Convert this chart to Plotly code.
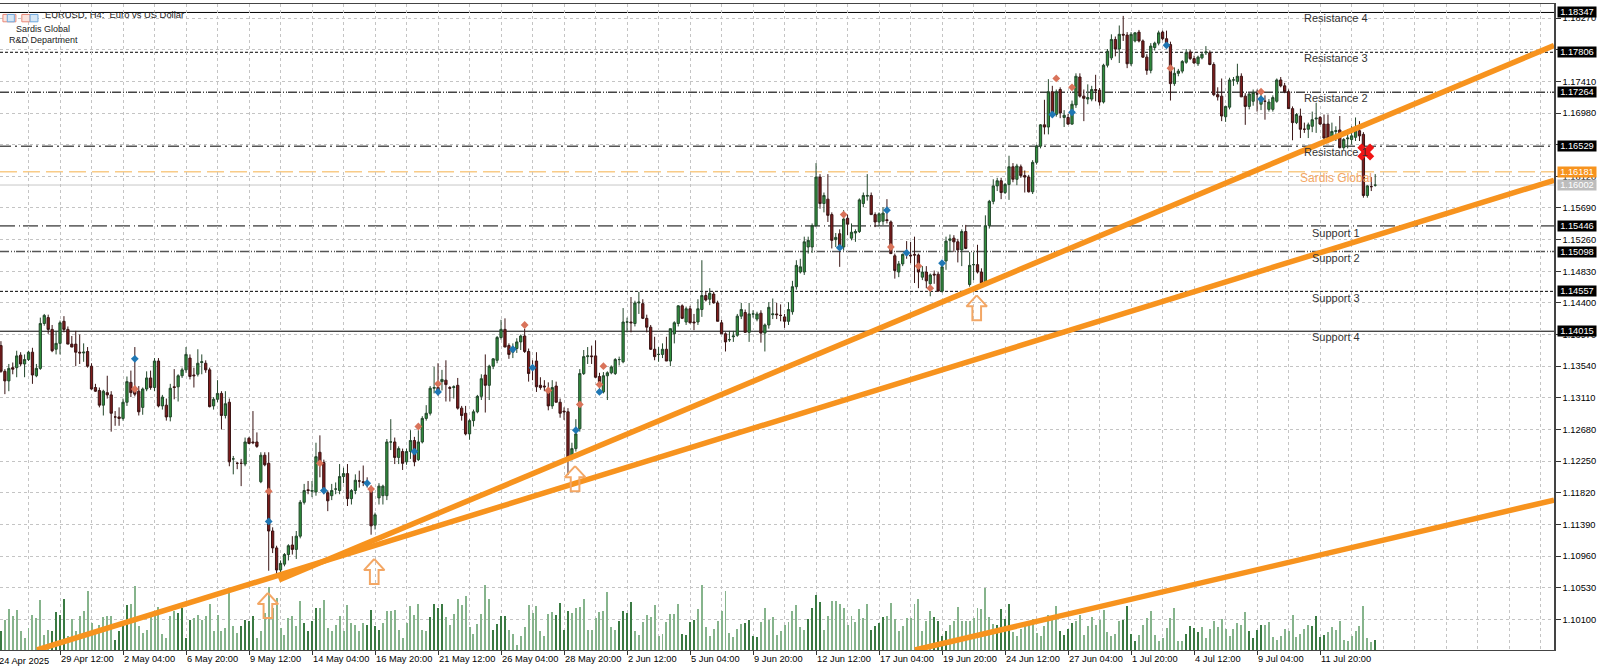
import plotly.graph_objects as go

opens = [
1.1382,1.1347,1.1334,1.1352,1.1352,1.1369,1.1357,1.1363,1.1373,1.1341,
1.1351,1.1412,1.1420,1.1404,1.1377,1.1385,1.1415,1.1404,1.1384,1.1384,
1.1373,1.1372,1.1374,1.1354,1.1325,1.1321,1.1301,1.1318,1.1315,1.1285,
1.1285,1.1283,1.1305,1.1332,1.1323,1.1320,1.1298,1.1323,1.1338,1.1325,
1.1361,1.1300,1.1301,1.1285,1.1326,1.1326,1.1341,1.1349,1.1365,1.1342,
1.1343,1.1359,1.1358,1.1349,1.1300,1.1309,1.1317,1.1287,1.1305,1.1228,
1.1222,1.1222,1.1221,1.1256,1.1251,1.1251,1.1197,1.1233,1.1222,1.1130,
1.1107,1.1077,1.1085,1.1098,1.1111,1.1105,1.1123,1.1169,1.1186,1.1184,
1.1183,1.1237,1.1223,1.1182,1.1178,1.1187,1.1185,1.1204,1.1208,1.1174,
1.1185,1.1198,1.1197,1.1195,1.1187,1.1138,1.1175,1.1178,1.1178,1.1251,
1.1251,1.1230,1.1238,1.1224,1.1238,1.1253,1.1227,1.1251,1.1283,1.1290,
1.1324,1.1325,1.1333,1.1335,1.1325,1.1325,1.1328,1.1297,1.1290,1.1262,
1.1280,1.1292,1.1313,1.1342,1.1328,1.1354,1.1362,1.1393,1.1404,1.1382,
1.1373,1.1378,1.1387,1.1395,1.1374,1.1353,1.1361,1.1328,1.1327,1.1323,
1.1300,1.1327,1.1305,1.1293,1.1292,1.1230,1.1242,1.1269,1.1344,1.1367,
1.1368,1.1368,1.1340,1.1319,1.1341,1.1345,1.1344,1.1363,1.1360,1.1414,
1.1414,1.1412,1.1440,1.1439,1.1419,1.1407,1.1377,1.1370,1.1370,1.1377,
1.1361,1.1398,1.1412,1.1436,1.1414,1.1432,1.1414,1.1414,1.1431,1.1450,
1.1445,1.1452,1.1440,1.1413,1.1398,1.1390,1.1394,1.1396,1.1422,1.1427,
1.1400,1.1425,1.1418,1.1426,1.1399,1.1410,1.1424,1.1425,1.1423,1.1421,
1.1415,1.1428,1.1462,1.1482,1.1482,1.1516,1.1516,1.1545,1.1611,1.1575,
1.1581,1.1560,1.1526,1.1534,1.1516,1.1555,1.1528,1.1535,1.1537,1.1575,
1.1585,1.1586,1.1560,1.1550,1.1551,1.1553,1.1550,1.1504,1.1482,1.1493,
1.1508,1.1505,1.1506,1.1505,1.1475,1.1482,1.1466,1.1479,1.1479,1.1456,
1.1497,1.1525,1.1528,1.1523,1.1512,1.1537,1.1465,1.1492,1.1492,1.1482,
1.1467,1.1545,1.1578,1.1599,1.1606,1.1590,1.1601,1.1625,1.1608,1.1625,
1.1613,1.1611,1.1591,1.1631,1.1653,1.1682,1.1679,1.1727,1.1696,1.1730,
1.1692,1.1692,1.1683,1.1709,1.1747,1.1721,1.1717,1.1717,1.1730,1.1729,
1.1713,1.1763,1.1773,1.1798,1.1785,1.1805,1.1804,1.1765,1.1796,1.1808,
1.1796,1.1774,1.1756,1.1787,1.1793,1.1808,1.1799,1.1791,1.1738,1.1752,
1.1755,1.1767,1.1781,1.1772,1.1765,1.1773,1.1780,1.1780,1.1764,1.1723,
1.1721,1.1693,1.1706,1.1743,1.1741,1.1748,1.1721,1.1707,1.1714,1.1724,
1.1710,1.1714,1.1703,1.1703,1.1714,1.1743,1.1735,1.1727,1.1704,1.1685,
1.1694,1.1676,1.1676,1.1680,1.1690,1.1692,1.1683,1.1683,1.1664,1.1673,
1.1675,1.1651,1.1663,1.1662,1.1665,1.1674,1.1669,1.1586,1.1598,1.1600]

highs = [
1.1388,1.1350,1.1357,1.1359,1.1375,1.1373,1.1370,1.1375,1.1379,1.1357,
1.1420,1.1425,1.1424,1.1410,1.1402,1.1416,1.1422,1.1408,1.1395,1.1402,
1.1397,1.1385,1.1380,1.1358,1.1330,1.1325,1.1322,1.1341,1.1320,1.1293,
1.1298,1.1310,1.1340,1.1348,1.1380,1.1327,1.1325,1.1347,1.1348,1.1365,
1.1365,1.1315,1.1310,1.1330,1.1350,1.1343,1.1352,1.1380,1.1370,1.1352,
1.1377,1.1370,1.1362,1.1352,1.1312,1.1335,1.1320,1.1320,1.1310,1.1232,
1.1224,1.1228,1.1257,1.1258,1.1293,1.1264,1.1237,1.1237,1.1237,1.1135,
1.1110,1.1090,1.1100,1.1112,1.1123,1.1130,1.1172,1.1194,1.1198,1.1198,
1.1250,1.1260,1.1227,1.1185,1.1194,1.1196,1.1221,1.1216,1.1221,1.1187,
1.1207,1.1212,1.1219,1.1203,1.1192,1.1155,1.1195,1.1193,1.1255,1.1282,
1.1257,1.1245,1.1242,1.1242,1.1267,1.1258,1.1267,1.1286,1.1301,1.1327,
1.1353,1.1358,1.1349,1.1362,1.1327,1.1328,1.1338,1.1300,1.1300,1.1282,
1.1295,1.1315,1.1343,1.1370,1.1356,1.1365,1.1395,1.1417,1.1419,1.1385,
1.1385,1.1392,1.1397,1.1405,1.1378,1.1362,1.1373,1.1339,1.1335,1.1332,
1.1335,1.1333,1.1310,1.1298,1.1297,1.1250,1.1282,1.1350,1.1376,1.1380,
1.1382,1.1389,1.1345,1.1346,1.1347,1.1355,1.1365,1.1367,1.1433,1.1420,
1.1448,1.1443,1.1455,1.1445,1.1424,1.1410,1.1394,1.1380,1.1385,1.1394,
1.1405,1.1415,1.1437,1.1438,1.1435,1.1436,1.1425,1.1445,1.1498,1.1455,
1.1460,1.1455,1.1443,1.1417,1.1400,1.1402,1.1402,1.1425,1.1440,1.1431,
1.1440,1.1430,1.1428,1.1430,1.1412,1.1441,1.1446,1.1440,1.1438,1.1425,
1.1441,1.1470,1.1498,1.1500,1.1530,1.1530,1.1548,1.1630,1.1615,1.1590,
1.1615,1.1563,1.1535,1.1540,1.1566,1.1560,1.1548,1.1540,1.1582,1.1590,
1.1615,1.1590,1.1563,1.1563,1.1570,1.1581,1.1552,1.1507,1.1497,1.1507,
1.1524,1.1523,1.1530,1.1507,1.1490,1.1490,1.1480,1.1484,1.1482,1.1495,
1.1530,1.1533,1.1532,1.1527,1.1540,1.1546,1.1509,1.1509,1.1519,1.1487,
1.1559,1.1580,1.1608,1.1610,1.1610,1.1603,1.1640,1.1630,1.1629,1.1628,
1.1620,1.1614,1.1634,1.1655,1.1683,1.1716,1.1744,1.1735,1.1730,1.1733,
1.1702,1.1697,1.1715,1.1752,1.1752,1.1730,1.1737,1.1735,1.1750,1.1732,
1.1765,1.1785,1.1805,1.1802,1.1817,1.1830,1.1808,1.1808,1.1808,1.1811,
1.1798,1.1778,1.1793,1.1795,1.1810,1.1810,1.1810,1.1795,1.1760,1.1758,
1.1770,1.1785,1.1784,1.1776,1.1776,1.1780,1.1789,1.1783,1.1767,1.1733,
1.1745,1.1708,1.1746,1.1747,1.1765,1.1752,1.1725,1.1725,1.1730,1.1730,
1.1726,1.1722,1.1717,1.1722,1.1745,1.1747,1.1739,1.1730,1.1707,1.1698,
1.1704,1.1685,1.1685,1.1700,1.1712,1.1694,1.1696,1.1696,1.1685,1.1680,
1.1694,1.1664,1.1676,1.1680,1.1692,1.1687,1.1672,1.1600,1.1611,1.1615]

lows = [
1.1345,1.1316,1.1320,1.1343,1.1339,1.1354,1.1339,1.1361,1.1330,1.1339,
1.1349,1.1409,1.1398,1.1373,1.1370,1.1370,1.1400,1.1384,1.1380,1.1354,
1.1357,1.1360,1.1352,1.1322,1.1319,1.1298,1.1287,1.1310,1.1265,1.1273,
1.1273,1.1280,1.1300,1.1312,1.1313,1.1287,1.1288,1.1320,1.1322,1.1320,
1.1298,1.1295,1.1280,1.1279,1.1309,1.1306,1.1338,1.1345,1.1336,1.1325,
1.1340,1.1343,1.1345,1.1298,1.1295,1.1305,1.1268,1.1283,1.1218,1.1207,
1.1214,1.1191,1.1218,1.1248,1.1248,1.1243,1.1195,1.1218,1.1076,1.1100,
1.1071,1.1074,1.1082,1.1090,1.1098,1.1092,1.1120,1.1166,1.1180,1.1176,
1.1178,1.1203,1.1180,1.1157,1.1172,1.1180,1.1180,1.1195,1.1164,1.1166,
1.1180,1.1189,1.1191,1.1189,1.1125,1.1132,1.1166,1.1166,1.1172,1.1240,
1.1221,1.1221,1.1213,1.1220,1.1228,1.1218,1.1225,1.1249,1.1280,1.1287,
1.1317,1.1314,1.1321,1.1306,1.1306,1.1310,1.1295,1.1280,1.1260,1.1254,
1.1272,1.1290,1.1308,1.1291,1.1308,1.1350,1.1358,1.1390,1.1380,1.1364,
1.1365,1.1372,1.1376,1.1372,1.1333,1.1335,1.1319,1.1322,1.1320,1.1294,
1.1296,1.1305,1.1284,1.1281,1.1206,1.1226,1.1238,1.1265,1.1342,1.1357,
1.1357,1.1338,1.1317,1.1317,1.1308,1.1343,1.1342,1.1355,1.1358,1.1400,
1.1400,1.1408,1.1425,1.1418,1.1400,1.1376,1.1362,1.1360,1.1365,1.1361,
1.1354,1.1385,1.1408,1.1418,1.1410,1.1412,1.1403,1.1410,1.1421,1.1442,
1.1437,1.1439,1.1415,1.1398,1.1374,1.1387,1.1387,1.1394,1.1418,1.1400,
1.1387,1.1420,1.1415,1.1386,1.1374,1.1405,1.1418,1.1418,1.1415,1.1406,
1.1410,1.1424,1.1458,1.1480,1.1478,1.1507,1.1508,1.1543,1.1568,1.1563,
1.1550,1.1514,1.1516,1.1489,1.1511,1.1532,1.1525,1.1523,1.1535,1.1570,
1.1579,1.1560,1.1543,1.1544,1.1546,1.1548,1.1507,1.1473,1.1475,1.1490,
1.1500,1.1494,1.1467,1.1460,1.1471,1.1460,1.1449,1.1466,1.1456,1.1454,
1.1485,1.1509,1.1509,1.1495,1.1490,1.1513,1.1462,1.1471,1.1480,1.1464,
1.1465,1.1541,1.1574,1.1592,1.1581,1.1588,1.1580,1.1604,1.1600,1.1610,
1.1590,1.1590,1.1588,1.1628,1.1650,1.1669,1.1669,1.1695,1.1693,1.1691,
1.1679,1.1682,1.1682,1.1705,1.1719,1.1687,1.1710,1.1714,1.1714,1.1708,
1.1711,1.1760,1.1770,1.1775,1.1766,1.1796,1.1759,1.1762,1.1794,1.1794,
1.1773,1.1750,1.1752,1.1783,1.1790,1.1797,1.1788,1.1715,1.1735,1.1748,
1.1752,1.1765,1.1770,1.1765,1.1762,1.1771,1.1777,1.1763,1.1721,1.1715,
1.1687,1.1686,1.1703,1.1735,1.1737,1.1720,1.1682,1.1703,1.1708,1.1700,
1.1702,1.1689,1.1700,1.1700,1.1712,1.1733,1.1725,1.1704,1.1661,1.1683,
1.1664,1.1671,1.1664,1.1672,1.1671,1.1682,1.1663,1.1657,1.1660,1.1660,
1.1650,1.1648,1.1650,1.1655,1.1660,1.1660,1.1583,1.1583,1.1592,1.1598]

closes = [
1.1347,1.1334,1.1351,1.1350,1.1368,1.1357,1.1363,1.1373,1.1342,1.1351,
1.1412,1.1423,1.1404,1.1375,1.1385,1.1413,1.1404,1.1384,1.1380,1.1373,
1.1372,1.1373,1.1354,1.1323,1.1320,1.1301,1.1320,1.1315,1.1290,1.1285,
1.1283,1.1305,1.1333,1.1318,1.1316,1.1292,1.1323,1.1338,1.1325,1.1361,
1.1300,1.1312,1.1285,1.1324,1.1325,1.1341,1.1349,1.1370,1.1340,1.1341,
1.1358,1.1360,1.1349,1.1299,1.1309,1.1317,1.1287,1.1303,1.1224,1.1228,
1.1222,1.1222,1.1251,1.1249,1.1250,1.1245,1.1233,1.1220,1.1130,1.1107,
1.1077,1.1086,1.1098,1.1110,1.1105,1.1123,1.1169,1.1185,1.1185,1.1185,
1.1231,1.1223,1.1185,1.1171,1.1185,1.1187,1.1204,1.1208,1.1174,1.1185,
1.1199,1.1198,1.1196,1.1194,1.1137,1.1152,1.1191,1.1191,1.1251,1.1251,
1.1230,1.1242,1.1222,1.1238,1.1253,1.1224,1.1251,1.1283,1.1290,1.1324,
1.1325,1.1319,1.1336,1.1329,1.1324,1.1326,1.1297,1.1287,1.1262,1.1280,
1.1292,1.1313,1.1337,1.1328,1.1354,1.1364,1.1393,1.1404,1.1380,1.1370,
1.1380,1.1387,1.1395,1.1374,1.1344,1.1352,1.1326,1.1325,1.1326,1.1300,
1.1325,1.1305,1.1290,1.1292,1.1230,1.1242,1.1262,1.1344,1.1367,1.1368,
1.1367,1.1339,1.1333,1.1341,1.1345,1.1353,1.1363,1.1363,1.1414,1.1414,
1.1413,1.1440,1.1441,1.1419,1.1407,1.1377,1.1367,1.1370,1.1377,1.1361,
1.1405,1.1413,1.1436,1.1419,1.1432,1.1413,1.1413,1.1432,1.1450,1.1444,
1.1453,1.1440,1.1415,1.1398,1.1387,1.1390,1.1395,1.1422,1.1431,1.1400,
1.1425,1.1425,1.1425,1.1399,1.1410,1.1434,1.1425,1.1424,1.1423,1.1415,
1.1431,1.1462,1.1491,1.1489,1.1523,1.1525,1.1545,1.1611,1.1575,1.1586,
1.1559,1.1525,1.1529,1.1516,1.1554,1.1547,1.1536,1.1537,1.1580,1.1586,
1.1586,1.1560,1.1550,1.1561,1.1562,1.1552,1.1507,1.1484,1.1493,1.1506,
1.1507,1.1504,1.1505,1.1482,1.1482,1.1470,1.1478,1.1478,1.1456,1.1489,
1.1524,1.1527,1.1523,1.1512,1.1537,1.1514,1.1491,1.1492,1.1482,1.1467,
1.1545,1.1578,1.1599,1.1606,1.1590,1.1601,1.1625,1.1608,1.1626,1.1613,
1.1611,1.1591,1.1631,1.1653,1.1682,1.1679,1.1727,1.1696,1.1727,1.1698,
1.1695,1.1683,1.1710,1.1748,1.1721,1.1718,1.1719,1.1730,1.1729,1.1713,
1.1763,1.1782,1.1798,1.1785,1.1805,1.1804,1.1765,1.1805,1.1807,1.1796,
1.1774,1.1756,1.1789,1.1793,1.1807,1.1799,1.1791,1.1738,1.1752,1.1755,
1.1768,1.1780,1.1772,1.1766,1.1774,1.1778,1.1781,1.1764,1.1723,1.1720,
1.1694,1.1707,1.1743,1.1743,1.1748,1.1720,1.1707,1.1724,1.1726,1.1724,
1.1716,1.1714,1.1713,1.1719,1.1743,1.1735,1.1727,1.1704,1.1685,1.1696,
1.1676,1.1676,1.1682,1.1689,1.1691,1.1683,1.1664,1.1664,1.1673,1.1674,
1.1651,1.1662,1.1664,1.1667,1.1674,1.1667,1.1586,1.1599,1.1598,1.1600]

volumes = [
19,30,41,34,40,19,12,22,35,32,50,15,20,19,38,35,51,14,31,19,
34,39,59,27,17,25,33,34,34,10,19,24,45,46,64,24,17,20,33,35,
43,16,12,34,39,37,42,12,30,32,35,30,34,46,19,35,19,22,57,24,
17,24,30,29,34,12,19,37,63,42,52,22,15,32,34,24,49,27,19,29,
42,42,50,22,19,25,34,19,45,27,25,19,27,25,40,24,20,27,39,39,
40,20,12,27,44,35,46,20,19,33,46,42,46,33,25,36,51,45,54,23,
16,26,36,65,51,20,26,34,34,20,16,5,14,23,45,37,44,19,14,36,
38,35,47,20,39,37,42,43,51,20,20,32,38,39,58,23,20,29,39,37,
48,19,15,28,35,33,45,14,16,28,36,36,46,16,15,28,30,41,65,23,
14,21,29,39,59,17,13,21,26,27,30,14,13,28,42,30,33,15,19,25,
28,39,45,23,20,31,42,55,48,20,34,49,49,46,42,25,34,28,41,32,
46,20,24,27,33,34,47,31,19,24,32,32,46,51,19,29,39,33,29,14,
19,25,29,43,29,29,29,32,42,41,62,33,26,25,41,31,46,18,14,21,
27,27,31,17,14,24,35,30,44,19,15,21,27,29,35,15,24,33,25,30,
40,18,14,16,29,30,44,16,9,15,25,32,39,15,9,12,22,32,42,9,
9,16,24,22,18,23,12,21,29,23,31,21,14,21,27,25,38,19,12,20,
25,25,28,13,10,14,21,19,35,13,16,21,25,24,34,13,15,18,23,20,
29,10,9,14,19,24,44,12,8,10]

tick_positions = [15,31,47,63,79,95,111,127,143,159,175,191,207,223,239,255,271,287,303,319,335]
tick_labels = ["29 Apr 12:00","2 May 04:00","6 May 20:00","9 May 12:00","14 May 04:00","16 May 20:00",
               "21 May 12:00","26 May 04:00","28 May 20:00","2 Jun 12:00","5 Jun 04:00","9 Jun 20:00",
               "12 Jun 12:00","17 Jun 04:00","19 Jun 20:00","24 Jun 12:00","27 Jun 04:00","1 Jul 20:00",
               "4 Jul 12:00","9 Jul 04:00","11 Jul 20:00"]
price_ticks = [1.1010,1.1053,1.1096,1.1139,1.1182,1.1225,1.1268,1.1311,1.1354,1.1397,1.1440,
               1.1483,1.1526,1.1569,1.1612,1.1655,1.1698,1.1741,1.1784,1.1827]

level_prices = [1.18347,1.17806,1.17264,1.16529,1.16181,1.16002,1.15446,1.15098,1.14557,1.14015]
level_colors = ["#000","#000","#444","#555","#f5b14c","#c8c8c8","#000","#555","#000","#000"]
level_dashes = ["solid","3px,2px","9px,2px,1px,2px,1px,1px","11px,4px,2px,4px","17px,6px","solid",
                "15px,4px,1px,3px","9px,2px,1px,2px,1px,1px","3px,2px","solid"]
level_widths = [1,1,1.5,1.5,1,1,1,1.5,1,1]
level_bg = ["#000"]*4+["#f7931e","#bdbdbd"]+["#000"]*4

zone_names = ["Resistance 4","Resistance 3","Resistance 2","Resistance 1","Support 1","Support 2","Support 3","Support 4"]
zone_prices = [1.18266,1.17723,1.17180,1.16447,1.15346,1.15006,1.14463,1.13933]

blue_x = [34,68,82,93,105,111,130,135,146,152,213,225,230,239,267,272,296,320]
blue_y = [1.1364,1.1143,1.1185,1.1195,1.1238,1.1319,1.1377,1.1352,1.1267,1.1319,1.1515,1.1566,1.1508,1.1494,1.1696,1.1699,1.1790,1.1717]
red_x = [34,68,81,94,106,111,133,139,147,152,153,214,226,233,236,268,272,297,320]
red_y = [1.1323,1.1184,1.1222,1.1187,1.1272,1.1330,1.1410,1.1321,1.1302,1.1329,1.1354,1.1560,1.1516,1.1490,1.1460,1.1745,1.1733,1.1759,1.1727]

trend_x = [[70.6,394.4],[9.15,394.4],[232.1,394.4]]
trend_y = [[1.10634,1.17899],[1.09683,1.16066],[1.09683,1.11720]]

arrow_x = [67.8,94.8,145.8,247.8]
arrow_y = [1.10457,1.10919,1.12182,1.14503]

bars = list(range(len(closes)))
PRICE_RANGE = [1.09683,1.18462]
X_RANGE = [-0.24,394.4]
FONT = "Liberation Sans"
GRID = "#c4c4c4"

fig = go.Figure()

# volume: primary y axis, so that the price traces overlay it
fig.add_trace(go.Bar(x=bars,y=volumes,width=0.25,yaxis="y",
    marker=dict(color=["#3a7a42" if i%16 in (13,14,15,0) else "#86b48c" for i in bars],line=dict(width=0)),
    showlegend=False,hoverinfo="skip"))

fig.add_trace(go.Candlestick(x=bars,open=opens,high=highs,low=lows,close=closes,yaxis="y2",
    increasing=dict(line=dict(color="#24482c",width=1),fillcolor="#2f8f3c"),
    decreasing=dict(line=dict(color="#3a1414",width=1),fillcolor="#7f1c1c"),
    whiskerwidth=0,showlegend=False))

fig.add_trace(go.Scatter(x=blue_x,y=blue_y,yaxis="y2",mode="markers",showlegend=False,
    marker=dict(symbol="diamond",size=6,color="#1f77b4")))
fig.add_trace(go.Scatter(x=red_x,y=red_y,yaxis="y2",mode="markers",showlegend=False,
    marker=dict(symbol="diamond",size=6,color="#d9735a")))

for tx,ty in zip(trend_x,trend_y):
    fig.add_trace(go.Scatter(x=tx,y=ty,yaxis="y2",mode="lines",showlegend=False,
        line=dict(color="#f7931e",width=5.5)))

# hollow up arrows drawn around each tip
for ax,ay in zip(arrow_x,arrow_y):
    dxs=[0,2.6,1.1,1.1,-1.1,-1.1,-2.6,0]
    dys=[0,-0.0015,-0.0015,-0.0034,-0.0034,-0.0015,-0.0015,0]
    fig.add_trace(go.Scatter(x=[ax+d for d in dxs],y=[ay+d for d in dys],yaxis="y2",mode="lines",
        showlegend=False,line=dict(color="#f3a765",width=2)))

fig.add_trace(go.Scatter(x=[346.6],y=[1.1645],yaxis="y2",mode="markers",showlegend=False,
    marker=dict(symbol="x",size=15,color="#f01414",line=dict(width=0))))

for p,c,d,w in zip(level_prices,level_colors,level_dashes,level_widths):
    fig.add_shape(type="line",xref="paper",x0=0,x1=1,yref="y2",y0=p,y1=p,layer="below",
                  line=dict(color=c,dash=d,width=w))

ann=[]
for p,bg in zip(level_prices,level_bg):
    ann.append(dict(xref="paper",x=1,xanchor="left",xshift=3,yref="y2",y=p,yanchor="middle",
        text=f"{p:.5f}",showarrow=False,bgcolor=bg,width=38,height=10,borderpad=0,align="center",
        font=dict(family=FONT,size=9.3,color="#fff")))
for n,p in zip(zone_names,zone_prices):
    ann.append(dict(xref="x",x=339,yref="y2",y=p,text=n,showarrow=False,
        font=dict(family=FONT,size=11,color="#333")))
ann.append(dict(xref="x",x=339,yref="y2",y=1.16094,text="Sardis Global",showarrow=False,
    font=dict(family=FONT,size=12,color="#f3a765")))
ann.append(dict(xref="paper",x=0,xanchor="left",xshift=-3,yref="paper",y=0,yanchor="top",yshift=-4,
    text="24 Apr 2025",showarrow=False,font=dict(family=FONT,size=9.3,color="#000")))
ann.append(dict(xref="x",x=10.7,xanchor="left",yref="y2",y=1.18316,text="EURUSD, H4:  Euro vs US Dollar",
    showarrow=False,font=dict(family=FONT,size=9.4,color="#222")))
ann.append(dict(xref="x",x=10.7,xanchor="center",yref="y2",y=1.18116,text="Sardis Global",
    showarrow=False,font=dict(family=FONT,size=9,color="#222")))
ann.append(dict(xref="x",x=10.7,xanchor="center",yref="y2",y=1.17967,text="R&D Department",
    showarrow=False,font=dict(family=FONT,size=9,color="#222")))
fig.update_layout(annotations=ann)

# small header icons
for x0,x1,c,f in [(0.5,3.8,"#e8897a","#fbe3dd"),(1.6,3.4,"#6fa8dc","#d5e6f5"),
                  (5.3,7.4,"#e8897a","#fbe3dd"),(7.4,9.4,"#6fa8dc","#d5e6f5")]:
    fig.add_shape(type="rect",xref="x",x0=x0,x1=x1,yref="y2",y0=1.1822,y1=1.1832,
                  line=dict(color=c,width=1),fillcolor=f,layer="above")

fig.update_layout(
    width=1600,height=667,autosize=False,paper_bgcolor="#fff",plot_bgcolor="#fff",
    margin=dict(l=0,r=46,t=3.5,b=17,pad=0),barmode="overlay",boxgap=0.18,
    xaxis=dict(range=X_RANGE,type="linear",rangeslider=dict(visible=False),tickmode="array",
        tickvals=tick_positions,ticktext=tick_labels,ticklabelposition="outside right",ticks="outside",
        tickangle=0,automargin=False,
        ticklen=4,tickcolor="#333",tickfont=dict(family=FONT,size=9.3,color="#000"),
        showgrid=False,zeroline=False,showline=True,linecolor="#444",linewidth=1,mirror=True,
        minor=dict(tickmode="array",tickvals=list(range(7,395,8)),showgrid=True,gridcolor=GRID,
                   griddash="3px,3px",gridwidth=1,ticks="")),
    yaxis=dict(range=[0,646.5],visible=False,fixedrange=True),
    yaxis2=dict(overlaying="y",side="right",range=PRICE_RANGE,tickmode="array",tickvals=price_ticks,
        tickformat=".5f",ticks="outside",ticklen=5,tickcolor="#333",automargin=False,
        tickfont=dict(family=FONT,size=9.3,color="#000"),showgrid=True,gridcolor=GRID,griddash="3px,3px",
        gridwidth=1,zeroline=False,showline=True,linecolor="#444",linewidth=1.5,mirror=False),
)
fig.write_html("out.html",config={"displayModeBar":False},
    post_script="document.body.style.margin='0';document.body.style.overflow='hidden';")
